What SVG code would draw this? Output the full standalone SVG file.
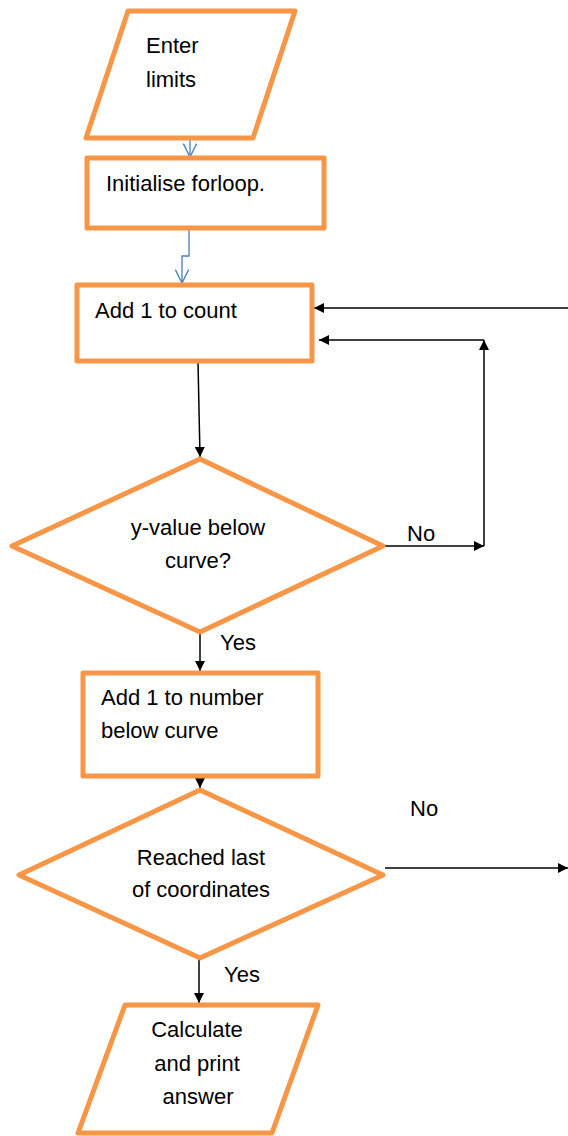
<svg xmlns="http://www.w3.org/2000/svg" width="568" height="1136" viewBox="0 0 568 1136">
  <style>
    .shape { fill: #ffffff; stroke: #F79646; stroke-width: 5; stroke-linejoin: round; }
    .label { font-family: "Liberation Sans", Arial, sans-serif; font-size: 22px; fill: #000000; }
    .mid { text-anchor: middle; }
    .flow { fill: none; stroke: #000000; stroke-width: 1.5; }
    .flow-blue { fill: none; stroke: #4A7EBB; stroke-width: 1.3; }
  </style>
  <defs>
    <marker id="solid" viewBox="0 0 10 10" refX="10" refY="5" markerWidth="11" markerHeight="10" markerUnits="userSpaceOnUse" orient="auto">
      <path d="M0,0 L10,5 L0,10 Z" fill="#000000"/>
    </marker>
    <marker id="open" viewBox="0 0 12 12" refX="11" refY="6" markerWidth="16" markerHeight="16" markerUnits="userSpaceOnUse" orient="auto">
      <path d="M1,1 L11,6 L1,11" fill="none" stroke="#4A7EBB" stroke-width="1"/>
    </marker>
  </defs>

  <!-- connectors -->
  <g id="connectors">
    <line class="flow-blue" x1="190" y1="140" x2="190" y2="157" marker-end="url(#open)"/>
    <polyline class="flow-blue" points="189,228 189,256 182,256 182,283" marker-end="url(#open)"/>
    <line class="flow" x1="198" y1="362" x2="200" y2="457" marker-end="url(#solid)"/>
    <polyline class="flow" points="385,546 484,546" marker-end="url(#solid)"/>
    <line class="flow" x1="484" y1="546" x2="484" y2="340" marker-end="url(#solid)"/>
    <line class="flow" x1="484" y1="340" x2="319" y2="340" marker-end="url(#solid)"/>
    <line class="flow" x1="568" y1="308" x2="314" y2="308" marker-end="url(#solid)"/>
    <line class="flow" x1="200" y1="633" x2="200" y2="671" marker-end="url(#solid)"/>
    <line class="flow" x1="200" y1="777" x2="200" y2="788" marker-end="url(#solid)"/>
    <line class="flow" x1="385" y1="868" x2="568" y2="868" marker-end="url(#solid)"/>
    <line class="flow" x1="199" y1="959" x2="199" y2="1003" marker-end="url(#solid)"/>
    <text class="label" x="407" y="541">No</text>
    <text class="label" x="220" y="650">Yes</text>
    <text class="label" x="410" y="816">No</text>
    <text class="label" x="224" y="982">Yes</text>
  </g>

  <!-- input: enter limits -->
  <g id="enter-limits">
    <polygon class="shape" points="128,11 295,11 253,138 86,138"/>
    <text class="label" x="146" y="53">Enter</text>
    <text class="label" x="146" y="87">limits</text>
  </g>

  <!-- initialise loop -->
  <g id="init-loop">
    <rect class="shape" x="87" y="158" width="237" height="70"/>
    <text class="label" x="106" y="191">Initialise forloop.</text>
  </g>

  <!-- count step -->
  <g id="add-count">
    <rect class="shape" x="77" y="285" width="235" height="76"/>
    <text class="label" x="95" y="318">Add 1 to count</text>
  </g>

  <!-- decision: below curve -->
  <g id="below-curve">
    <polygon class="shape" points="200,459 383,546 200,632 12,546"/>
    <text class="label mid" x="198" y="535">y-value below</text>
    <text class="label mid" x="198" y="568">curve?</text>
  </g>

  <!-- count below curve -->
  <g id="add-below">
    <rect class="shape" x="83" y="673" width="235" height="103"/>
    <text class="label" x="101" y="705">Add 1 to number</text>
    <text class="label" x="101" y="738">below curve</text>
  </g>

  <!-- decision: last coordinate -->
  <g id="last-coord">
    <polygon class="shape" points="200,790 383,875 200,958 19,875"/>
    <text class="label mid" x="201" y="865">Reached last</text>
    <text class="label mid" x="201" y="897">of coordinates</text>
  </g>

  <!-- output: result -->
  <g id="print-answer">
    <polygon class="shape" points="125,1005 318,1005 272,1133 78,1133"/>
    <text class="label mid" x="197" y="1037">Calculate</text>
    <text class="label mid" x="197" y="1071">and print</text>
    <text class="label mid" x="198" y="1104">answer</text>
  </g>
</svg>
